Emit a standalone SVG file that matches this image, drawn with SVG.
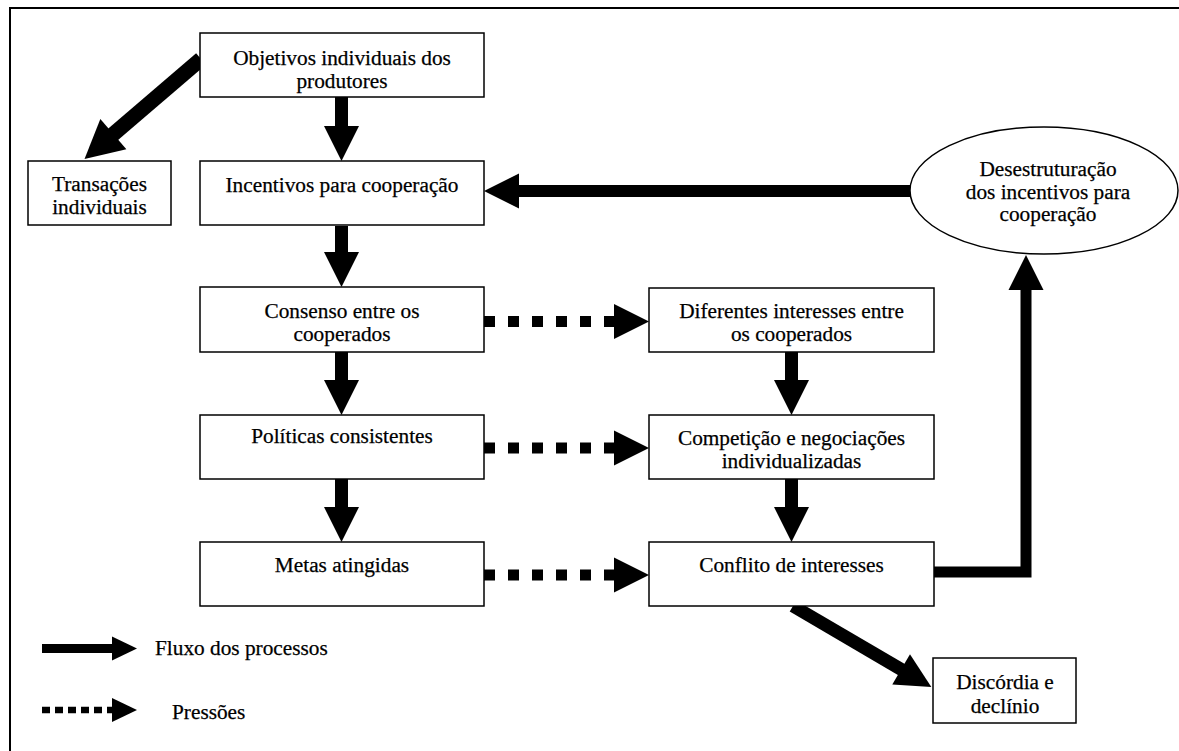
<svg xmlns="http://www.w3.org/2000/svg" width="1179" height="751" viewBox="0 0 1179 751">
<style>
  .box { fill: #ffffff; stroke: #000000; stroke-width: 1.5; }
  text { font-family: 'Liberation Serif', 'Times New Roman', 'DejaVu Serif', serif; font-size: 21.3px; fill: #000000; stroke: #000000; stroke-width: 0.25; }
  .t { text-anchor: middle; }
  .flow { fill: none; stroke: #000000; stroke-width: 13; stroke-linejoin: miter; }
  .press { fill: none; stroke: #000000; stroke-width: 11; stroke-dasharray: 11 13; }
</style>
<defs>
  <marker id="head" markerUnits="userSpaceOnUse" markerWidth="36" markerHeight="36" refX="1" refY="17.5" orient="auto" overflow="visible">
    <path d="M0,0 L35,17.5 L0,35 z" fill="#000000"/>
  </marker>
  <marker id="headL" markerUnits="userSpaceOnUse" markerWidth="42" markerHeight="42" refX="1" refY="20" orient="auto" overflow="visible">
    <path d="M0,0 L38,20 L0,40 z" fill="#000000"/>
  </marker>
  <marker id="headS" markerUnits="userSpaceOnUse" markerWidth="26" markerHeight="26" refX="1" refY="12" orient="auto" overflow="visible">
    <path d="M0,0 L25,12 L0,24 z" fill="#000000"/>
  </marker>
</defs>
<rect x="10" y="8" width="1200" height="800" fill="none" stroke="#000000" stroke-width="2"/>

<g id="connectors">
  <line class="flow" x1="341.5" y1="97" x2="341.5" y2="127" marker-end="url(#head)"/>
  <line class="flow" x1="341.5" y1="226" x2="341.5" y2="253" marker-end="url(#head)"/>
  <line class="flow" x1="341.5" y1="352" x2="341.5" y2="381" marker-end="url(#head)"/>
  <line class="flow" x1="341.5" y1="479" x2="341.5" y2="508" marker-end="url(#head)"/>
  <line class="flow" x1="791.5" y1="352" x2="791.5" y2="381" marker-end="url(#head)"/>
  <line class="flow" x1="791.5" y1="479" x2="791.5" y2="508" marker-end="url(#head)"/>
  <line class="flow" style="stroke-width:12" x1="910" y1="191" x2="518" y2="191" marker-end="url(#head)"/>
  <polyline class="flow" style="stroke-width:11" points="934,572 1026,572 1026,289" marker-end="url(#head)"/>
  <line class="flow" x1="793" y1="606" x2="902" y2="669.8" marker-end="url(#head)"/>
  <line class="flow" style="stroke-width:15" x1="201" y1="59" x2="112.6" y2="134.8" marker-end="url(#headL)"/>
  <line class="press" x1="484" y1="321.5" x2="615" y2="321.5" marker-end="url(#head)"/>
  <line class="press" x1="484" y1="448" x2="615" y2="448" marker-end="url(#head)"/>
  <line class="press" x1="484" y1="575" x2="615" y2="575" marker-end="url(#head)"/>
</g>

<g id="n1">
  <rect class="box" x="200" y="33" width="284" height="64"/>
  <text class="t" x="342" y="65">Objetivos individuais dos</text>
  <text class="t" x="342" y="88">produtores</text>
</g>
<g id="n2">
  <rect class="box" x="28" y="161" width="143" height="64"/>
  <text class="t" x="99.5" y="191">Transações</text>
  <text class="t" x="99.5" y="214">individuais</text>
</g>
<g id="n3">
  <rect class="box" x="200" y="161" width="284" height="64"/>
  <text class="t" x="342" y="192">Incentivos para cooperação</text>
</g>
<g id="n4">
  <rect class="box" x="200" y="287" width="284" height="65"/>
  <text class="t" x="342" y="318">Consenso entre os</text>
  <text class="t" x="342" y="341">cooperados</text>
</g>
<g id="n5">
  <rect class="box" x="200" y="415" width="284" height="64"/>
  <text class="t" x="342" y="443">Políticas consistentes</text>
</g>
<g id="n6">
  <rect class="box" x="200" y="542" width="284" height="64"/>
  <text class="t" x="342" y="572">Metas atingidas</text>
</g>
<g id="n7">
  <rect class="box" x="649" y="288" width="285" height="64"/>
  <text class="t" x="791.5" y="318">Diferentes interesses entre</text>
  <text class="t" x="791.5" y="341">os cooperados</text>
</g>
<g id="n8">
  <rect class="box" x="649" y="415" width="285" height="64"/>
  <text class="t" x="791.5" y="445">Competição e negociações</text>
  <text class="t" x="791.5" y="468">individualizadas</text>
</g>
<g id="n9">
  <rect class="box" x="649" y="542" width="285" height="64"/>
  <text class="t" x="791.5" y="572">Conflito de interesses</text>
</g>
<g id="n10">
  <rect class="box" x="933" y="658" width="143" height="65"/>
  <text class="t" x="1005" y="689">Discórdia e</text>
  <text class="t" x="1005" y="713">declínio</text>
</g>
<g id="n11">
  <ellipse class="box" cx="1044" cy="190.5" rx="134" ry="63.5"/>
  <text class="t" x="1048" y="176">Desestruturação</text>
  <text class="t" x="1048" y="198.5">dos incentivos para</text>
  <text class="t" x="1048" y="221">cooperação</text>
</g>

<g id="legend">
  <line x1="42" y1="648.5" x2="113" y2="648.5" stroke="#000000" stroke-width="9" marker-end="url(#headS)"/>
  <text x="155" y="655">Fluxo dos processos</text>
  <line x1="42" y1="710" x2="113" y2="710" stroke="#000000" stroke-width="6.5" stroke-dasharray="8 5" marker-end="url(#headS)"/>
  <text x="172" y="719">Pressões</text>
</g>
</svg>
